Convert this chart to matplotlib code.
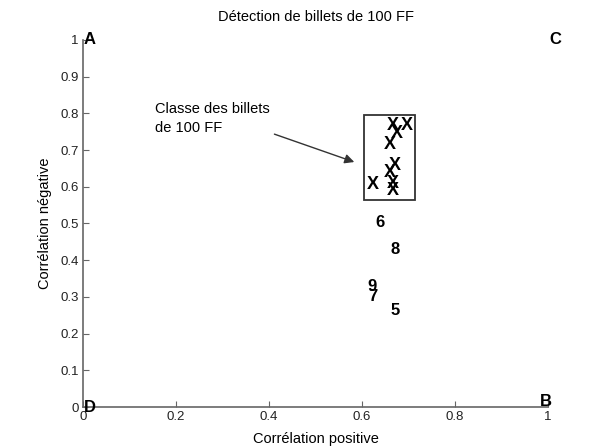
import matplotlib
matplotlib.use("Agg")
import matplotlib.pyplot as plt
from matplotlib.ticker import FuncFormatter
from matplotlib.patches import Rectangle

plt.rcParams['font.family'] = ['Liberation Sans', 'DejaVu Sans']

# Class points of 100 FF bills (marked X)
x_class = [0.667, 0.697, 0.675, 0.660, 0.671, 0.660, 0.624, 0.667, 0.667]
y_class = [0.768, 0.768, 0.746, 0.714, 0.659, 0.640, 0.605, 0.610, 0.591]

# Other bills (numbered)
num_labels = ['6', '8', '9', '7', '5']
x_num = [0.639, 0.671, 0.622, 0.624, 0.671]
y_num = [0.504, 0.428, 0.327, 0.300, 0.264]

# Corner labels
corner_labels = ['A', 'B', 'C', 'D']
x_corner = [0.015, 0.995, 1.015, 0.015]
y_corner = [1.0, 0.015, 1.0, 0.0]

# Class box
box_x = [0.605, 0.715]
box_y = [0.565, 0.795]

xticks = [0, 0.2, 0.4, 0.6, 0.8, 1]
yticks = [0, 0.1, 0.2, 0.3, 0.4, 0.5, 0.6, 0.7, 0.8, 0.9, 1]

fig = plt.figure(figsize=(5.96, 4.48), dpi=100)
ax = fig.add_axes([83/596, 1-407/448, (548-83)/596, (407-40)/448])
ax.set_xlim(0, 1)
ax.set_ylim(0, 1)

for s in ['top', 'right']:
    ax.spines[s].set_visible(False)
for s in ['left', 'bottom']:
    ax.spines[s].set_color('#666666')
    ax.spines[s].set_linewidth(1.2)

ax.set_xticks(xticks)
ax.set_yticks(yticks)
fmt = FuncFormatter(lambda v, p: '%g' % v)
ax.xaxis.set_major_formatter(fmt)
ax.yaxis.set_major_formatter(fmt)
ax.tick_params(direction='in', length=4, width=0.8, color='#666666', labelsize=9.5,
               labelcolor='#222222', pad=3)

for xv, yv in zip(x_class, y_class):
    ax.text(xv, yv, 'X', fontsize=13, fontweight='bold', ha='center', va='center')

for lab, xv, yv in zip(num_labels, x_num, y_num):
    ax.text(xv, yv, lab, fontsize=12, fontweight='bold', ha='center', va='center')

for lab, xv, yv in zip(corner_labels, x_corner, y_corner):
    ax.text(xv, yv, lab, fontsize=12, fontweight='bold', ha='center', va='center', clip_on=False)

ax.add_patch(Rectangle((box_x[0], box_y[0]), box_x[1]-box_x[0], box_y[1]-box_y[0],
                       fill=False, edgecolor='#333333', linewidth=1.3))

ax.annotate('', xy=(0.589, 0.665), xytext=(0.406, 0.746),
            arrowprops=dict(arrowstyle='-|>', color='#333333', lw=1, mutation_scale=14))
ax.text(0.155, 0.83, 'Classe des billets\nde 100 FF', fontsize=10.5, ha='left', va='top',
        linespacing=1.4)

ax.set_title('Détection de billets de 100 FF', fontsize=10.5, pad=14)
ax.set_xlabel('Corrélation positive', fontsize=10.5, labelpad=6)
ax.set_ylabel('Corrélation négative', fontsize=10.5, labelpad=6)

fig.savefig('out.png', dpi=100)
